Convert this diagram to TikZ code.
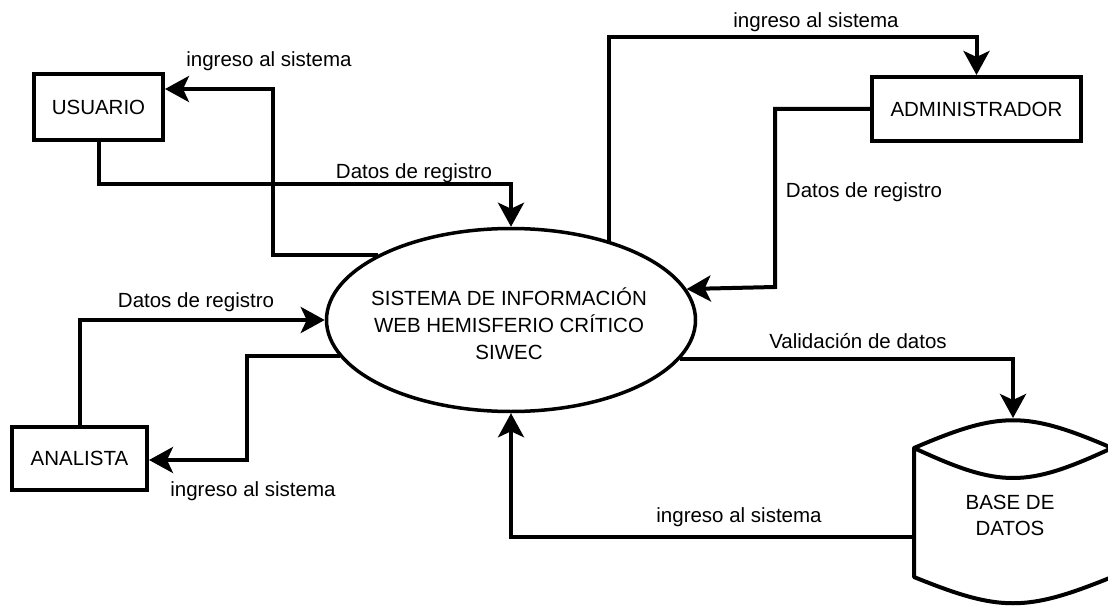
\documentclass[tikz,border=0pt]{standalone}
\usepackage{fontspec}
\setmainfont{Liberation Sans}
\usetikzlibrary{arrows.meta,shapes.geometric}
\begin{document}
\begin{tikzpicture}[x=1pt,y=-1pt,
  box/.style={draw,line width=4pt,rectangle,inner sep=0pt,font=\fontsize{20.5}{24}\selectfont},
  flow/.style={line width=4pt,-{Stealth[length=24pt,width=26pt,inset=6pt]}},
  lbl/.style={font=\fontsize{20.5}{24}\selectfont,inner sep=0pt,text height=15pt,text depth=0pt},
  mtext/.style={font=\fontsize{20.5}{27}\selectfont,inner sep=0pt,align=center},
]
\useasboundingbox (0,0) rectangle (1108,607);
\clip (0,0) rectangle (1108,607);

% entities
\node[box,minimum width=129pt,minimum height=66pt] (usu) at (98.5,107) {USUARIO};
\node[box,minimum width=209pt,minimum height=64pt] (adm) at (976.5,109) {ADMINISTRADOR};
\node[box,minimum width=135pt,minimum height=63pt] (ana) at (79.5,458.5) {ANALISTA};

% process
\node[draw,ellipse,line width=3.5pt,inner sep=0pt,minimum width=369pt,minimum height=183pt] (sys) at (511,320) {};
\node[mtext] (systxt) at (509,324) {SISTEMA DE INFORMACIÓN\\WEB HEMISFERIO CRÍTICO\\SIWEC};

% data store
\node[minimum width=198pt,minimum height=190pt,inner sep=0pt,outer sep=0pt] (db) at (1013,513) {};
\draw[line width=4pt,line join=round]
  (914,448) .. controls (1000,411) and (1026,411) .. (1112,448)
            .. controls (1026,488) and (1000,488) .. (914,448)
  -- (914,577) .. controls (1000,612) and (1026,612) .. (1112,577) -- (1112,448);
\node[mtext,font=\fontsize{20.5}{26}\selectfont] (dbtxt) at (1010,515) {BASE DE\\DATOS};

% flows
\draw[flow] (sys.154.8) -| (273,89) -- (usu.east |- 0,89);
\node[lbl] (l1) at (269,59) {ingreso al sistema};

\draw[flow] (usu.south) |- (sys.north |- 0,184) -- (sys.north);
\node[lbl] (l2) at (414,171) {Datos de registro};

\draw[flow] (sys.39.9) |- (adm.north |- 0,37) -- (adm.north);
\node[lbl] (l3) at (816,20) {ingreso al sistema};

\draw[flow] (adm.west) -| (775,287) -- (sys.10.85);
\node[lbl] (l4) at (864,190) {Datos de registro};

\draw[flow] (ana.north) |- (sys.west);
\node[lbl] (l5) at (196,300) {Datos de registro};

\draw[flow] (sys.192.76) -| (247,460) -- (ana.east |- 0,460);
\node[lbl] (l6) at (253,489) {ingreso al sistema};

\draw[flow] (sys.347.24) -| (db.north);
\node[lbl] (l7) at (858,341) {Validación de datos};

\draw[flow] (db.west |- 0,537) -| (sys.south);
\node[lbl] (l8) at (739,515) {ingreso al sistema};
\end{tikzpicture}
\end{document}
